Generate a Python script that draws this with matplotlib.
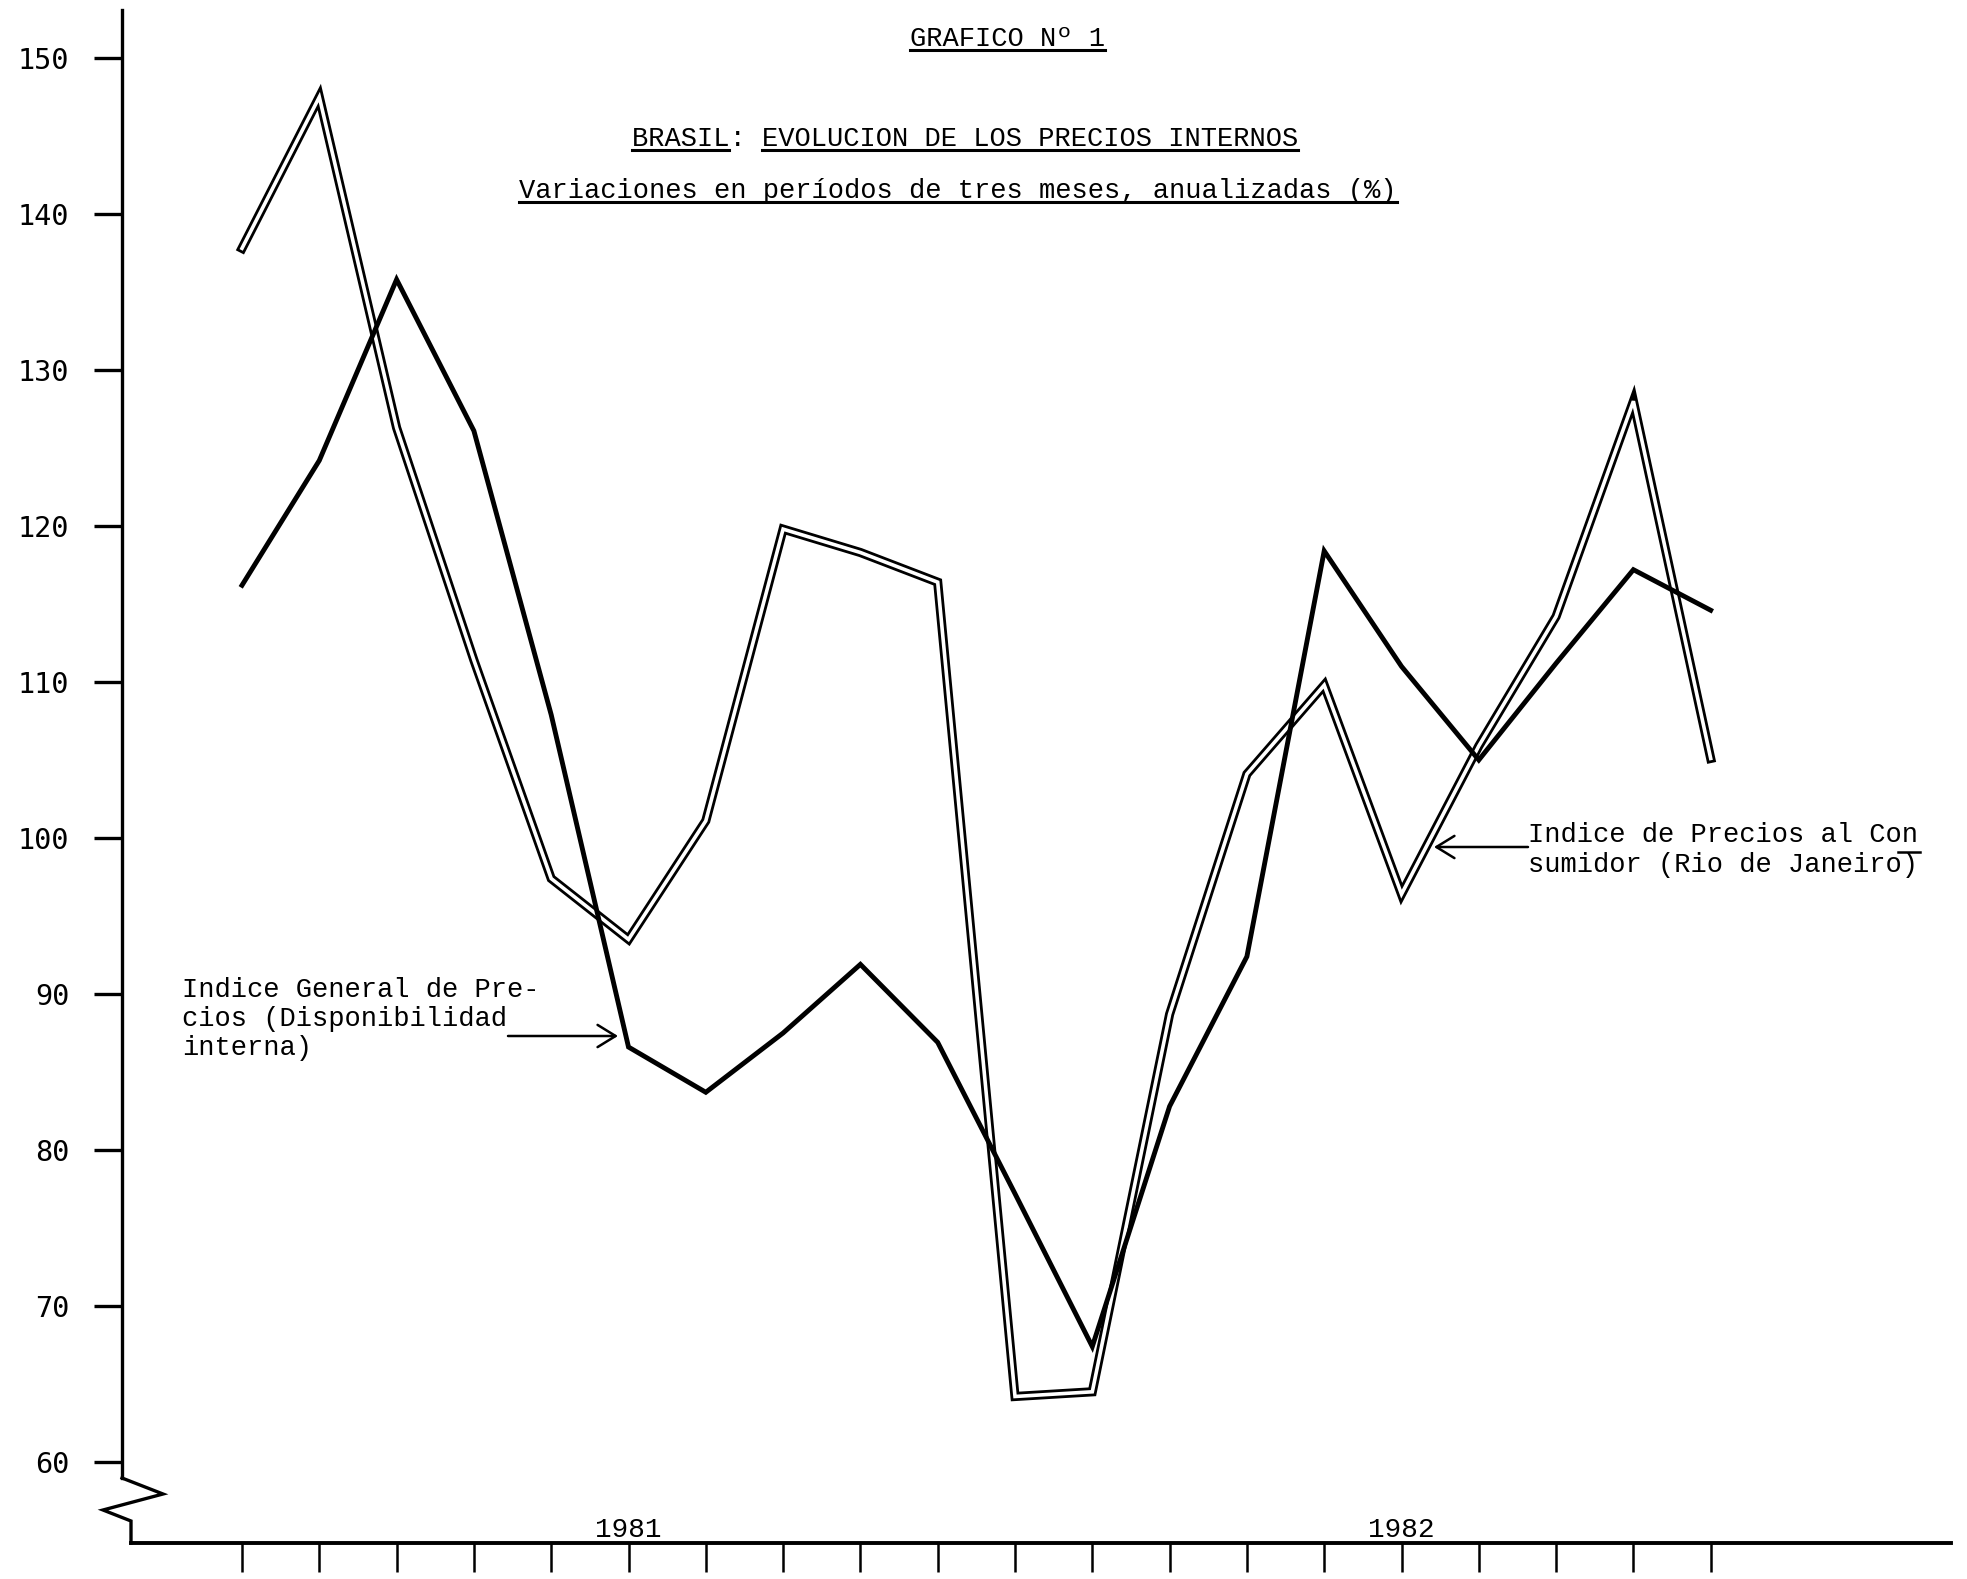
import matplotlib
matplotlib.use("Agg")
import matplotlib.pyplot as plt
from matplotlib.lines import Line2D

# ---------------- data ----------------
periods = list(range(20))  # three-month periods, late 1980 .. 1982
ipc_rio = [137.8, 147.5, 126.3, 111.4, 97.4, 93.5, 101.1, 119.8, 118.3, 116.4,
           64.2, 64.5, 88.7, 104.1, 109.8, 96.4, 105.9, 114.2, 128.0, 105.1]
igp_di = [116.2, 124.2, 135.8, 126.1, 107.9, 86.6, 83.7, 87.5, 91.9, 86.9,
          77.2, 67.4, 82.8, 92.4, 118.4, 111.0, 105.0, 111.2, 117.2, 114.6]
yticks = [60, 70, 80, 90, 100, 110, 120, 130, 140, 150]
year_labels = ["1981", "1982"]
year_pos = [5, 15]

title1 = "GRAFICO Nº 1"
title2 = "BRASIL: EVOLUCION DE LOS PRECIOS INTERNOS"
title3 = "Variaciones en períodos de tres meses, anualizadas (%)"
label_igp = "Indice General de Pre-\ncios (Disponibilidad\ninterna)"
label_ipc = "Indice de Precios al Con\nsumidor (Rio de Janeiro)"

# ---------------- figure ----------------
W, H = 1967, 1579
fig = plt.figure(figsize=(W / 100, H / 100), dpi=100)
fig.patch.set_facecolor("white")

def fx(px):
    return px / W

def fy(py):
    return 1 - py / H

ax_left, ax_right, ax_bottom, ax_top = 122, 1951, 1543, 10
ax = fig.add_axes([fx(ax_left), fy(ax_bottom), fx(ax_right) - fx(ax_left), fy(ax_top) - fy(ax_bottom)])
ax.set_facecolor("white")

# data->pixel calibration of the reference
x0px, xstep = 242.0, 77.3
y150px, ystep = 58.0, 15.6
def dx(px):
    return (px - x0px) / xstep

def dy(py):
    return 150 - (py - y150px) / ystep

ax.set_xlim(dx(ax_left), dx(ax_right))
ax.set_ylim(dy(ax_bottom), dy(ax_top))

# double (hollow) line
ax.plot(periods, ipc_rio, color="black", lw=6.6, solid_joinstyle="miter", zorder=3)
ax.plot(periods, ipc_rio, color="white", lw=2.6, solid_joinstyle="miter", zorder=4)
# solid line
ax.plot(periods, igp_di, color="black", lw=3.5, solid_joinstyle="miter", zorder=5)

# spines
for s in ["top", "right"]:
    ax.spines[s].set_visible(False)
ax.spines["left"].set_linewidth(2.4)
ax.spines["bottom"].set_linewidth(2.8)
ax.spines["left"].set_bounds(dy(1478), dy(ax_top))
ax.spines["bottom"].set_bounds(dx(131), dx(ax_right))

# axis break zigzag
zz_x = [dx(122), dx(163), dx(103), dx(131), dx(131)]
zz_y = [dy(1478), dy(1494), dy(1510), dy(1521), dy(1543)]
ax.plot(zz_x, zz_y, color="black", lw=2.4, clip_on=False, solid_joinstyle="miter", zorder=6)

# ticks
ax.set_yticks(yticks)
ax.set_yticklabels([str(v) for v in yticks], fontfamily="DejaVu Sans Mono", fontsize=20.5)
ax.tick_params(axis="y", direction="out", length=20, width=2.4, pad=18, colors="black")
ax.set_xticks(periods)
ax.set_xticklabels([])
ax.tick_params(axis="x", direction="out", length=21, width=1.8, colors="black")

mono = "Liberation Mono"
for lab, p in zip(year_labels, year_pos):
    ax.text(p, dy(1530), lab, ha="center", va="center", fontsize=20,
            fontfamily=mono, color="black")

# titles
t1 = fig.text(fx(1007), fy(39), title1, ha="center", va="center", fontsize=19.5, fontfamily=mono)
t2 = fig.text(fx(965), fy(139), title2, ha="center", va="center", fontsize=19.5, fontfamily=mono)
t3 = fig.text(fx(958), fy(191), title3, ha="center", va="center", fontsize=19.5, fontfamily=mono)

# series labels
tl = fig.text(fx(182), fy(1019), label_igp, ha="left", va="center", fontsize=19.5,
              fontfamily=mono, linespacing=1.17)
tr = fig.text(fx(1528), fy(850), label_ipc, ha="left", va="center", fontsize=19.5,
              fontfamily=mono, linespacing=1.17)

arrowprops = dict(arrowstyle="->,head_length=1.3,head_width=0.8", lw=1.8, color="black",
                  shrinkA=0, shrinkB=0)
ax.annotate("", xy=(dx(618), dy(1036)), xytext=(dx(508), dy(1036)), arrowprops=arrowprops)
ax.annotate("", xy=(dx(1434), dy(847)), xytext=(dx(1528), dy(847)), arrowprops=arrowprops)

# underlines
fig.canvas.draw()
r = fig.canvas.get_renderer()

def hline(x0, x1, ypx, lw=2.2):
    fig.add_artist(Line2D([x0 / W, x1 / W], [ypx / H, ypx / H], color="black", lw=lw,
                          transform=fig.transFigure))

def underline(t, start, end, off=2):
    bb = t.get_window_extent(r)
    n = len(t.get_text())
    cw = bb.width / n
    hline(bb.x0 + start * cw, bb.x0 + end * cw, bb.y0 + off)

underline(t1, 0, len(title1))
underline(t2, 0, 6)
underline(t2, 8, len(title2))
underline(t3, 0, len(title3))

bb = tr.get_window_extent(r)
cw = bb.width / 24
ymid = bb.y0 + bb.height / 2
hline(bb.x0 + 23 * cw - 4, bb.x0 + 24 * cw + 2, ymid - 2, lw=1.8)

fig.savefig("out.png", dpi=100, facecolor="white")
